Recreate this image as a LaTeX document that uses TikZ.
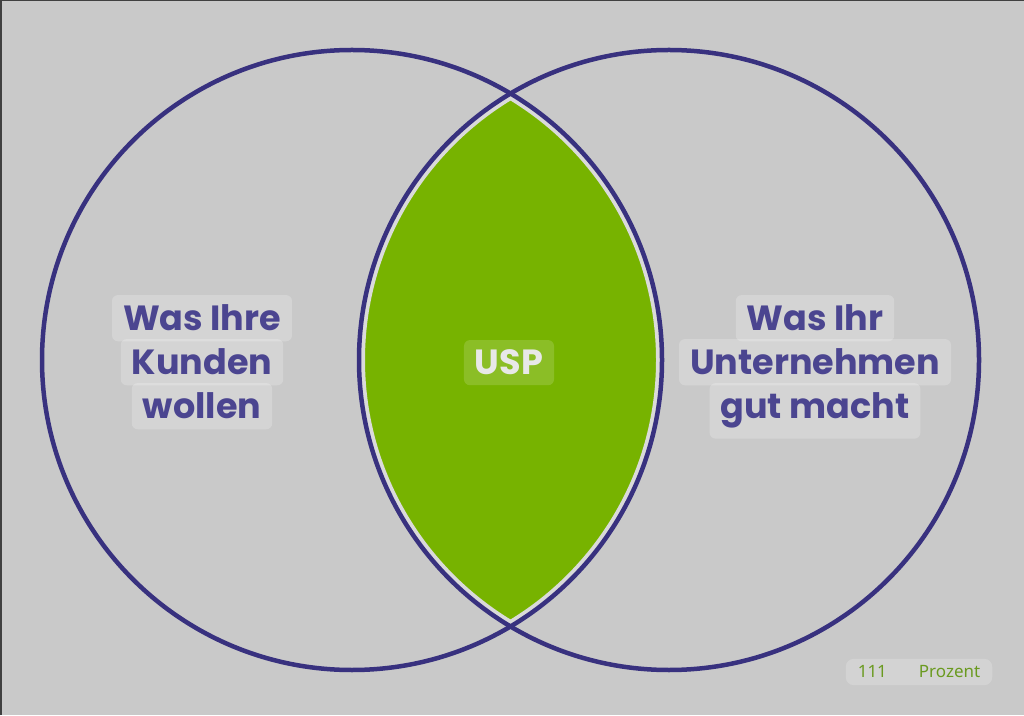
\documentclass[tikz,border=0pt]{standalone}
\usepackage{fontspec}
\setmainfont{Poppins}
\newfontfamily\smallfont{Noto Sans}
\usetikzlibrary{positioning}

\definecolor{bggray}{HTML}{C9C9C9}
\definecolor{ringblue}{HTML}{38317F}
\definecolor{textblue}{HTML}{4B4590}
\definecolor{uspgreen}{HTML}{77B300}
\definecolor{lightgap}{HTML}{DADADA}
\definecolor{uspwhite}{HTML}{E8E8E8}
\definecolor{tagtext}{HTML}{6A9A20}

\tikzset{
	ring/.style={draw=ringblue, line width=4.5pt},
	lbl/.style={fill=white, fill opacity=0.22, text opacity=1, text=textblue,
		rounded corners=6pt, inner xsep=11pt, inner ysep=10pt,
		font=\fontsize{35}{35}\selectfont\bfseries},
	usplbl/.style={lbl, text=uspwhite, fill opacity=0.15},
	tag/.style={fill=white, fill opacity=0.2, text opacity=1, text=tagtext,
		rounded corners=8pt, inner xsep=12pt, inner ysep=7pt,
		font=\smallfont\fontsize{17}{17}\selectfont}
}

\begin{document}
\begin{tikzpicture}[x=1pt, y=1pt]
	\fill [bggray] (0,0) rectangle (1024,715);
	\useasboundingbox (0,0) rectangle (1024,715);
	\draw [black!75, line width=1.5pt] (0.75,0) -- (0.75,714.25) -- (1024,714.25);

	% lens
	\begin{scope}
		\clip (352,355) circle (310);
		\clip (669,355) circle (310);
		\fill [uspgreen] (0,0) rectangle (1024,715);
		\draw [lightgap, line width=12pt] (352,355) circle (310);
		\draw [lightgap, line width=12pt] (669,355) circle (310);
	\end{scope}
	\draw [ring] (352,355) circle (310);
	\draw [ring] (669,355) circle (310);

	\node [lbl, anchor=base] (k1) at (202,384) {Was Ihre};
	\node [lbl, below=44pt of k1.base, anchor=base] (k2) {Kunden};
	\node [lbl, below=44pt of k2.base, anchor=base] (k3) {wollen};

	\node [lbl, anchor=base] (u1) at (815,384) {Was Ihr};
	\node [lbl, below=44pt of u1.base, anchor=base] (u2) {Unternehmen};
	\node [lbl, below=44pt of u2.base, anchor=base] (u3) {gut macht};

	\node [usplbl, anchor=base] (usp) at (509,340) {USP};

	\node [tag] (prozent) at (919,43) {111\hspace{32pt}Prozent};
\end{tikzpicture}
\end{document}
